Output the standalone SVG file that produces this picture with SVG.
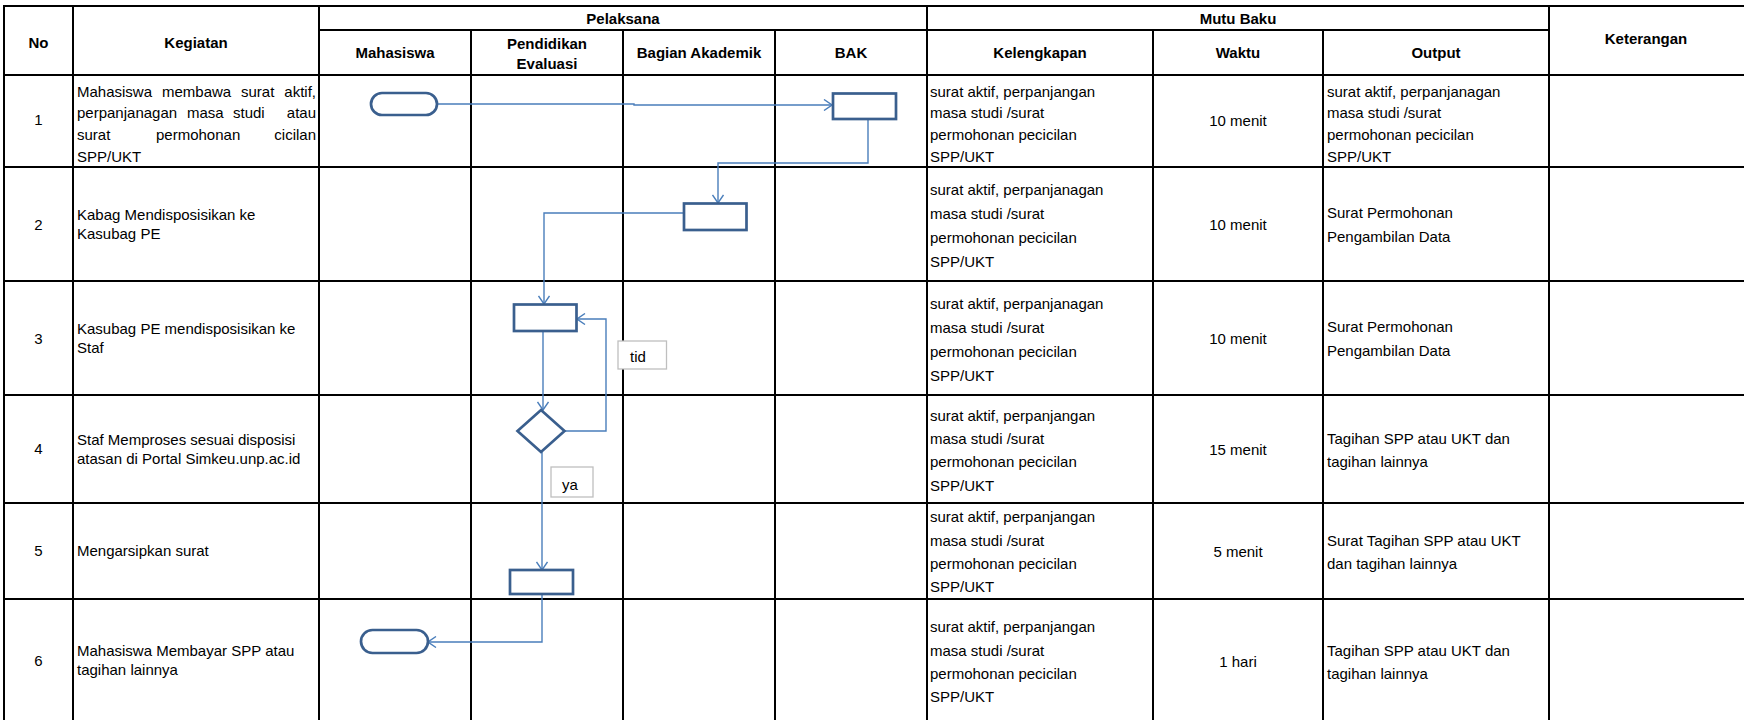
<svg xmlns="http://www.w3.org/2000/svg" width="1744" height="720" viewBox="0 0 1744 720">
<defs>
<style>
text{font-family:"Liberation Sans",Arial,sans-serif;font-size:15px;fill:#000}
.h{font-weight:bold;text-anchor:middle}
.c{text-anchor:middle}
.e{text-anchor:end}
.grid line{stroke:#000;stroke-width:2}
.shape{fill:#fff;stroke:#3A5F8E;stroke-width:2.7}
.conn{fill:none;stroke:#4A7EBB;stroke-width:1.4}
.lbl{fill:#fff;stroke:#BFBFBF;stroke-width:1.3}
</style>
<marker id="arr" viewBox="0 0 10 12" refX="9" refY="6" markerWidth="10" markerHeight="12" markerUnits="userSpaceOnUse" orient="auto">
<path d="M1,0.5 L9,6 L1,11.5" fill="none" stroke="#4A7EBB" stroke-width="1.4"/>
</marker>
</defs>
<rect width="1744" height="720" fill="#fff"/>

<g id="grid" class="grid">
<line x1="3" y1="6" x2="1744" y2="6"/>
<line x1="319" y1="30" x2="1549" y2="30"/>
<line x1="3" y1="75" x2="1744" y2="75"/>
<line x1="3" y1="167" x2="1744" y2="167"/>
<line x1="3" y1="281" x2="1744" y2="281"/>
<line x1="3" y1="395" x2="1744" y2="395"/>
<line x1="3" y1="503" x2="1744" y2="503"/>
<line x1="3" y1="599" x2="1744" y2="599"/>
<line x1="4" y1="5" x2="4" y2="720"/>
<line x1="73" y1="5" x2="73" y2="720"/>
<line x1="319" y1="5" x2="319" y2="720"/>
<line x1="471" y1="30" x2="471" y2="720"/>
<line x1="623" y1="30" x2="623" y2="720"/>
<line x1="775" y1="30" x2="775" y2="720"/>
<line x1="927" y1="5" x2="927" y2="720"/>
<line x1="1153" y1="30" x2="1153" y2="720"/>
<line x1="1323" y1="30" x2="1323" y2="720"/>
<line x1="1549" y1="5" x2="1549" y2="720"/>
</g>

<g id="headers">
<text class="h" x="38.5" y="48">No</text>
<text class="h" x="196" y="48">Kegiatan</text>
<text class="h" x="623" y="23.5">Pelaksana</text>
<text class="h" x="1238" y="23.5">Mutu Baku</text>
<text class="h" x="395" y="58">Mahasiswa</text>
<text class="h" x="547" y="48.5">Pendidikan</text>
<text class="h" x="547" y="68.5">Evaluasi</text>
<text class="h" x="699" y="58">Bagian Akademik</text>
<text class="h" x="851" y="58">BAK</text>
<text class="h" x="1040" y="58">Kelengkapan</text>
<text class="h" x="1238" y="58">Waktu</text>
<text class="h" x="1436" y="58">Output</text>
<text class="h" x="1646" y="43.5">Keterangan</text>
</g>

<g id="numbers">
<text class="c" x="38.5" y="125">1</text>
<text class="c" x="38.5" y="229.5">2</text>
<text class="c" x="38.5" y="343.5">3</text>
<text class="c" x="38.5" y="454">4</text>
<text class="c" x="38.5" y="556">5</text>
<text class="c" x="38.5" y="665.5">6</text>
</g>

<g id="kegiatan">
<text y="96.5"><tspan x="77">Mahasiswa</tspan><tspan x="162">membawa</tspan><tspan x="241">surat</tspan><tspan x="284.3">aktif,</tspan></text>
<text y="118"><tspan x="77">perpanjanagan</tspan><tspan x="187">masa</tspan><tspan x="233">studi</tspan></text>
<text class="e" x="316" y="118">atau</text>
<text y="140"><tspan x="77">surat</tspan><tspan x="156">permohonan</tspan></text>
<text class="e" x="316" y="140">cicilan</text>
<text x="77" y="161.5">SPP/UKT</text>
<text x="77" y="220">Kabag Mendisposisikan ke</text>
<text x="77" y="239">Kasubag PE</text>
<text x="77" y="334">Kasubag PE mendisposisikan ke</text>
<text x="77" y="353">Staf</text>
<text x="77" y="445">Staf Memproses sesuai disposisi</text>
<text x="77" y="464">atasan di Portal Simkeu.unp.ac.id</text>
<text x="77" y="556">Mengarsipkan surat</text>
<text x="77" y="656">Mahasiswa Membayar SPP atau</text>
<text x="77" y="675">tagihan lainnya</text>
</g>

<g id="kelengkapan">
<text x="930" y="96.5">surat aktif, perpanjangan</text>
<text x="930" y="118">masa studi /surat</text>
<text x="930" y="140">permohonan pecicilan</text>
<text x="930" y="161.5">SPP/UKT</text>
<text x="930" y="195">surat aktif, perpanjanagan</text>
<text x="930" y="219">masa studi /surat</text>
<text x="930" y="243">permohonan pecicilan</text>
<text x="930" y="267">SPP/UKT</text>
<text x="930" y="308.5">surat aktif, perpanjanagan</text>
<text x="930" y="332.5">masa studi /surat</text>
<text x="930" y="356.5">permohonan pecicilan</text>
<text x="930" y="380.5">SPP/UKT</text>
<text x="930" y="420.7">surat aktif, perpanjangan</text>
<text x="930" y="444">masa studi /surat</text>
<text x="930" y="467.3">permohonan pecicilan</text>
<text x="930" y="490.7">SPP/UKT</text>
<text x="930" y="522.3">surat aktif, perpanjangan</text>
<text x="930" y="545.7">masa studi /surat</text>
<text x="930" y="569">permohonan pecicilan</text>
<text x="930" y="592.3">SPP/UKT</text>
<text x="930" y="632.3">surat aktif, perpanjangan</text>
<text x="930" y="655.7">masa studi /surat</text>
<text x="930" y="679">permohonan pecicilan</text>
<text x="930" y="702.3">SPP/UKT</text>
</g>

<g id="waktu">
<text class="c" x="1238" y="126">10 menit</text>
<text class="c" x="1238" y="229.5">10 menit</text>
<text class="c" x="1238" y="343.5">10 menit</text>
<text class="c" x="1238" y="455">15 menit</text>
<text class="c" x="1238" y="557">5 menit</text>
<text class="c" x="1238" y="667">1 hari</text>
</g>

<g id="output">
<text x="1327" y="96.5">surat aktif, perpanjanagan</text>
<text x="1327" y="118">masa studi /surat</text>
<text x="1327" y="140">permohonan pecicilan</text>
<text x="1327" y="161.5">SPP/UKT</text>
<text x="1327" y="217.5">Surat Permohonan</text>
<text x="1327" y="241.5">Pengambilan Data</text>
<text x="1327" y="331.5">Surat Permohonan</text>
<text x="1327" y="355.5">Pengambilan Data</text>
<text x="1327" y="443.8">Tagihan SPP atau UKT dan</text>
<text x="1327" y="467">tagihan lainnya</text>
<text x="1327" y="545.5">Surat Tagihan SPP atau UKT</text>
<text x="1327" y="569">dan tagihan lainnya</text>
<text x="1327" y="655.5">Tagihan SPP atau UKT dan</text>
<text x="1327" y="679">tagihan lainnya</text>
</g>

<g id="connectors">
<path class="conn" d="M438,104 H634 V105 H832" marker-end="url(#arr)"/>
<path class="conn" d="M868,119 V163 H718 V203" marker-end="url(#arr)"/>
<path class="conn" d="M684,213 H544 V304" marker-end="url(#arr)"/>
<path class="conn" d="M543,331 V410" marker-end="url(#arr)"/>
<path class="conn" d="M564,431 H606 V319 H577" marker-end="url(#arr)"/>
<path class="conn" d="M542,452 V570" marker-end="url(#arr)"/>
<path class="conn" d="M542,594 V642 H428" marker-end="url(#arr)"/>
</g>

<g id="n1-start"><rect class="shape" x="371" y="93" width="66" height="22" rx="11"/></g>
<g id="n2-bak"><rect class="shape" x="833" y="93.5" width="63" height="25.5"/></g>
<g id="n3-bagian"><rect class="shape" x="684" y="203.5" width="62.5" height="26.5"/></g>
<g id="n4-pe"><rect class="shape" x="514" y="304.5" width="62.5" height="26.5"/></g>
<g id="n5-decision"><polygon class="shape" points="541,410 564.5,431 541,452 517.5,431"/></g>
<g id="n6-arsip"><rect class="shape" x="510" y="570" width="63" height="24"/></g>
<g id="n7-end"><rect class="shape" x="361" y="630" width="67" height="23" rx="11.5"/></g>

<g id="label-tid"><rect class="lbl" x="618" y="341" width="48.5" height="28"/><text x="630" y="362">tid</text></g>
<g id="label-ya"><rect class="lbl" x="551" y="467" width="42" height="30"/><text x="562" y="490">ya</text></g>
</svg>
